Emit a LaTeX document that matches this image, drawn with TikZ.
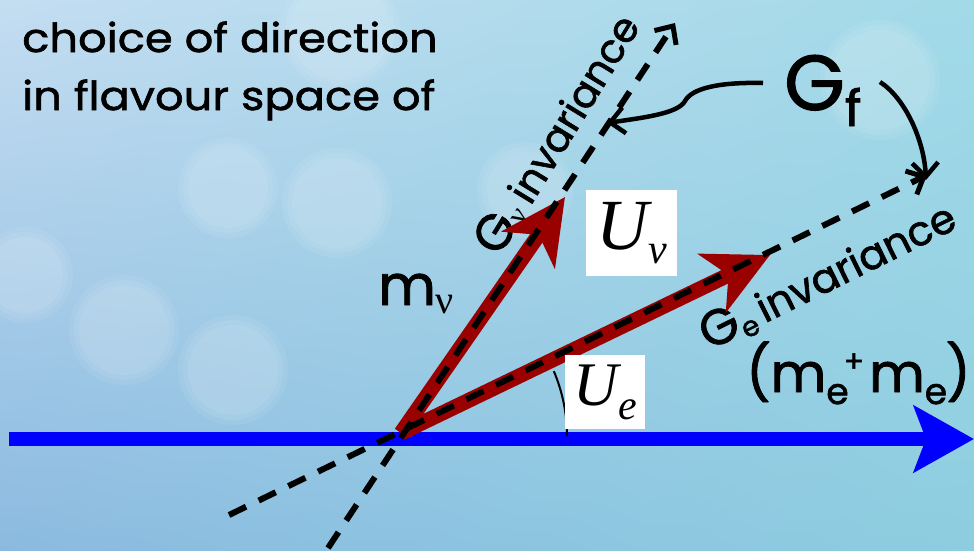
\documentclass[tikz,border=0pt]{standalone}
\usepackage{fontspec}
\setmainfont{Poppins}[RawFeature={embolden=1.5}]
\newfontfamily\comic{Poppins}[FakeStretch=1.12,RawFeature={embolden=1.5}]
\newfontfamily\tnr{Liberation Serif}
\usetikzlibrary{arrows.meta,shadings}
\definecolor{vecred}{HTML}{990000}
\definecolor{axisblue}{HTML}{0000FF}
\definecolor{bgul}{HTML}{C4DDF1}
\definecolor{bgur}{HTML}{A2DAE8}
\definecolor{bgll}{HTML}{8BBAE0}
\definecolor{bglr}{HTML}{8DCDE0}
\tikzset{
  bokeh/.style={fill=white,fill opacity=0.07},
  dashline/.style={line width=6pt,dash pattern=on 19pt off 14pt,-{Straight Barb[length=14pt,width=26pt,line width=5pt]}},
  redvec/.style={vecred,line width=15pt,-{Stealth[length=64pt,width=64pt,inset=18pt]}},
  gfarrow/.style={line width=4.5pt,-{Straight Barb[length=14pt,width=26pt,line width=4.5pt]}},
  mathbox/.style={fill=white,inner sep=0pt,minimum width=#1},
  lbl/.style={inner sep=0pt,text=black},
}
\begin{document}
\begin{tikzpicture}[x=1pt,y=-1pt]
% background
\shade[upper left=bgul, upper right=bgur, lower left=bgll, lower right=bglr] (0,0) rectangle (974,550);
\useasboundingbox (0,0) rectangle (974,550);
\foreach \cx/\cy/\r in {25/275/48,228/188/50,337/203/55,124/330/55,233/370/55,525/190/48,340/30/60,880/80/60}{
  \fill[bokeh] (\cx,\cy) circle[radius=\r pt];
  \fill[bokeh] (\cx,\cy) circle[radius=\r pt - 5pt];
  \fill[bokeh] (\cx,\cy) circle[radius=\r pt - 10pt];
}

% text
\node[lbl,anchor=base west,align=left,font=\comic\fontsize{40}{58}\selectfont] (title) at (22,110) {choice of direction\\in flavour space of};

\node[lbl,anchor=base west,rotate=58.5,font=\fontsize{40}{40}\selectfont] (gnu) at (499,258) {{\fontsize{50}{50}\selectfont G}\raisebox{-4pt}{\tnr\fontsize{30}{30}\selectfont ν}\hspace{8pt}invariance};
\node[lbl,anchor=base west,rotate=26.3,font=\fontsize{41}{41}\selectfont] (ge) at (709,351) {{\fontsize{50}{50}\selectfont G}\raisebox{-6pt}{\fontsize{28}{28}\selectfont e}\hspace{6pt}invariance};

\node[lbl,anchor=base west,font=\fontsize{56}{56}\selectfont] (mnu) at (378,305) {m\raisebox{-8pt}{\tnr\fontsize{40}{40}\selectfont ν}};
\node[lbl,anchor=base west,font=\fontsize{54}{54}\selectfont] (me) at (746,392) {(m\raisebox{-12pt}{\fontsize{36}{36}\selectfont e}\kern-5pt\raisebox{20pt}{\fontsize{30}{30}\selectfont +}\kern5pt m\raisebox{-12pt}{\fontsize{36}{36}\selectfont e}\kern-1pt)};
\node[lbl,anchor=base west,font=\fontsize{78}{78}\selectfont] (gf) at (784,110) {G\raisebox{-16pt}{\fontsize{50}{50}\selectfont f}};

% axis
\coordinate (O) at (401,433);
\coordinate (axstart) at (9,439);
\coordinate (axend) at (974,439);
\draw[axisblue,line width=14pt,-{Stealth[length=60pt,width=66pt,inset=12pt]}] (axstart) -- (axend);

% red vectors
\coordinate (unutip) at (565,197);
\coordinate (uetip) at (770,255);
\draw[redvec] (O) -- (unutip);
\draw[redvec] (O) -- (uetip);

% dashed invariance directions
\coordinate (dnua) at (328,548);
\coordinate (dnub) at (675,23);
\coordinate (dea) at (229,515);
\coordinate (deb) at (927,175);
\draw[dashline] (dnua) -- (dnub);
\draw[dashline] (dea) -- (deb);

% angle arc
\draw[line width=2pt] (567,436) arc[start angle=0,end angle=23,radius=166pt];

% U boxes
\node[mathbox=91pt,minimum height=86pt] (unu) at (631.5,233) {\tnr\itshape\fontsize{72}{72}\selectfont U\raisebox{-14pt}{\fontsize{42}{42}\selectfont ν}};
\node[mathbox=80pt,minimum height=74pt] (ue) at (605,392) {\tnr\itshape\fontsize{62}{62}\selectfont U\raisebox{-14pt}{\fontsize{42}{42}\selectfont e}};

% G_f arrows
\coordinate (gfl) at (763,83);
\coordinate (gfr) at (880,82);
\coordinate (nuhit) at (607,123);
\coordinate (ehit) at (926,180);
\draw[gfarrow] (gfl) .. controls (720,82) and (692,88) .. (685,101) .. controls (678,114) and (640,118) .. (nuhit);
\draw[gfarrow] (gfr) .. controls (905,98) and (924,140) .. (ehit);
\end{tikzpicture}
\end{document}
